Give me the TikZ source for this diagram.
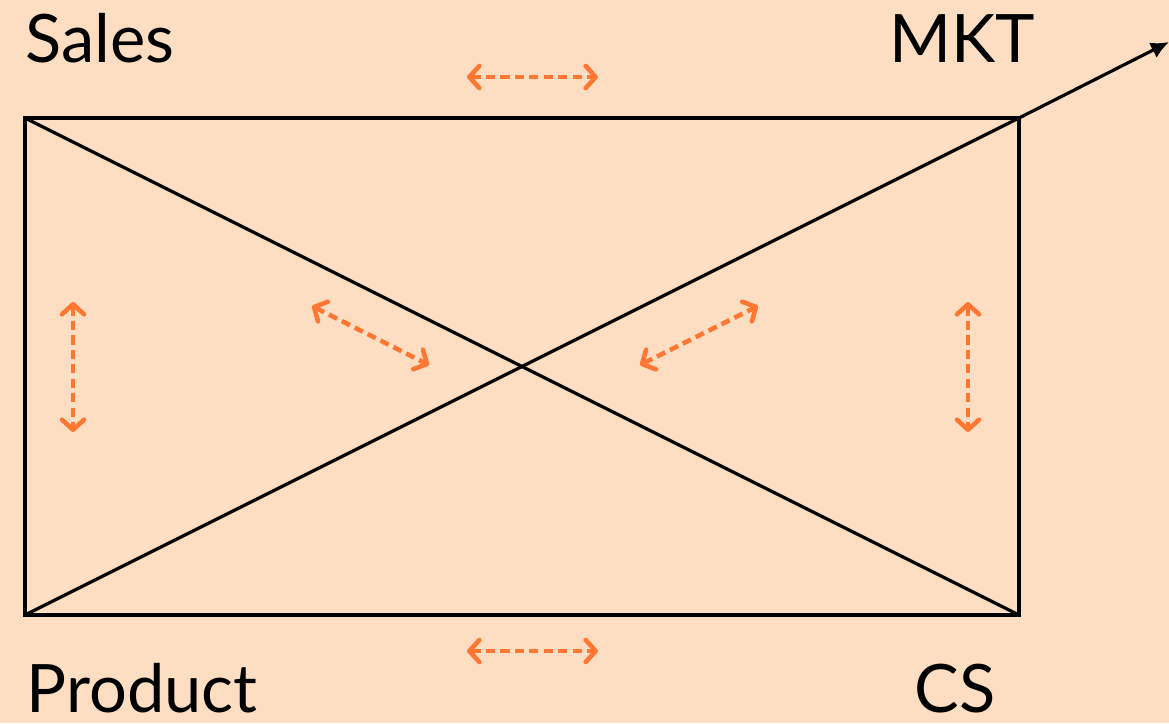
\documentclass[tikz,border=0pt]{standalone}
\usepackage{fontspec}
\setmainfont{Lato}
\usetikzlibrary{arrows.meta,positioning}
\definecolor{peach}{HTML}{FEDEC3}
\definecolor{handoff}{HTML}{FF7733}

\begin{document}
\begin{tikzpicture}[
 x=0.01cm,y=-0.01cm,
 edge/.style={line width=0.9pt,draw=black},
 lbl/.style={font=\fontsize{19}{22}\selectfont,inner sep=0pt},
 link/.style={{Straight Barb[length=1mm,width=2.2mm,round]}-{Straight Barb[length=1mm,width=2.2mm,round]},line width=1.3pt,draw=handoff,dash pattern=on 2.6pt off 1.5pt},
 outarr/.style={-{Latex[length=1.8mm,width=1.7mm]},line width=0.9pt}
]
\fill[peach] (0,0) rectangle (1169,723);
\useasboundingbox (0,0) rectangle (1169,723);
% corners of the box
\coordinate (sales) at (25,118);
\coordinate (mkt) at (1019,118);
\coordinate (prod) at (25,615);
\coordinate (cs) at (1019,615);
\coordinate (beyond) at (1169,42);
% labels
\node[lbl,anchor=base west] (salesname) at (25,62) {Sales};
\node[lbl,anchor=base east] (mktname) at (1036,62) {MKT};
\node[lbl,anchor=base west] (prodname) at (26,712) {Product};
\node[lbl,anchor=base east] (csname) at (996,712) {CS};
% box and diagonals
\draw[edge] (sales) rectangle (cs);
\draw[edge] (sales) -- (cs);
\draw[edge] (prod) -- (mkt);
\draw[outarr] (mkt) -- (beyond);
% handoffs
\coordinate (t1) at (467,77);  \coordinate (t2) at (598,77);
\coordinate (b1) at (467,651); \coordinate (b2) at (598,651);
\coordinate (l1) at (73,302);  \coordinate (l2) at (73,432);
\coordinate (r1) at (968,302); \coordinate (r2) at (968,432);
\coordinate (d1) at (312,306); \coordinate (d2) at (429,365);
\coordinate (e1) at (640,365); \coordinate (e2) at (758,306);
\foreach \a/\b in {t1/t2,b1/b2,l1/l2,r1/r2,d1/d2,e1/e2}
  \draw[link] (\a) -- (\b);
\end{tikzpicture}
\end{document}
